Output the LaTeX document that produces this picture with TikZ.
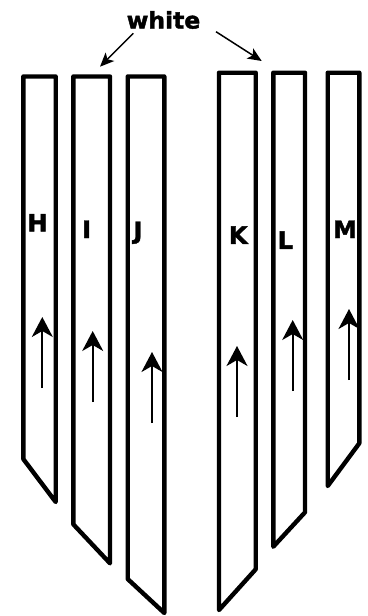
\documentclass[tikz,border=0pt]{standalone}
\usepackage{fontspec}
\newfontfamily\labfont{DejaVu Sans Bold}[FakeBold=1.8]
\usetikzlibrary{arrows.meta}
\begin{document}
\begin{tikzpicture}[x=1pt,y=-1pt,
  strip/.style={draw=black,line width=4.4pt,line join=round,fill=white},
  flow/.style={draw=black,line width=1.9pt,-{Stealth[length=20pt,width=21pt,inset=6pt]}},
  pointer/.style={draw=black,line width=1.5pt,-{Stealth[length=14pt,width=12pt,inset=3.5pt]}},
  lab/.style={font=\labfont\fontsize{24}{24}\selectfont,anchor=base,inner sep=0pt},
  title/.style={font=\labfont\fontsize{23}{23}\selectfont,anchor=base,inner sep=0pt,xscale=1.02}]
\useasboundingbox (0,0) rectangle (367,616);
% strips (left group: point to the right bottom; right group: point to the left bottom)
\draw[strip] (23.3,459) -- (23.3,76.5) -- (55.7,76.5) -- (55.7,502) -- cycle;
\draw[strip] (73.3,524.3) -- (73.3,76.5) -- (110,76.5) -- (110,563.3) -- cycle;
\draw[strip] (127.7,579) -- (127.7,76.5) -- (164.3,76.5) -- (164.3,613) -- cycle;
\draw[strip] (219,610) -- (219,72.7) -- (255.7,72.7) -- (255.7,569.3) -- cycle;
\draw[strip] (273.3,546.7) -- (273.3,72.7) -- (305,72.7) -- (305,512.3) -- cycle;
\draw[strip] (327.7,486) -- (327.7,72.7) -- (359.3,72.7) -- (359.3,443.3) -- cycle;
% labels
\node[lab] (H) at (37.5,231.5) {H};
\node[lab] (I) at (86.7,238) {I};
\node[lab] (J) at (138,239) {J};
\node[lab] (K) at (238.3,243.8) {K};
\node[lab] (L) at (285.3,248.8) {L};
\node[lab] (M) at (345,238) {M};
% flow arrows
\coordinate (hA) at (42.3,388); \coordinate (hB) at (42.3,317);
\coordinate (iA) at (92.7,402); \coordinate (iB) at (92.7,331);
\coordinate (jA) at (152,423);  \coordinate (jB) at (152,352);
\coordinate (kA) at (237,417);  \coordinate (kB) at (237,346);
\coordinate (lA) at (292.7,391);\coordinate (lB) at (292.7,320);
\coordinate (mA) at (349,380);  \coordinate (mB) at (349,309);
\draw[flow] (hA) -- (hB);
\draw[flow] (iA) -- (iB);
\draw[flow] (jA) -- (jB);
\draw[flow] (kA) -- (kB);
\draw[flow] (lA) -- (lB);
\draw[flow] (mA) -- (mB);
% title and pointers
\node[title] (white) at (163.5,28.5) {white};
\coordinate (wl) at (133.3,33.3); \coordinate (tl) at (100,66.7);
\coordinate (wr) at (216,31.7);   \coordinate (tr) at (261.7,61);
\draw[pointer] (wl) -- (tl);
\draw[pointer] (wr) -- (tr);
\end{tikzpicture}
\end{document}
